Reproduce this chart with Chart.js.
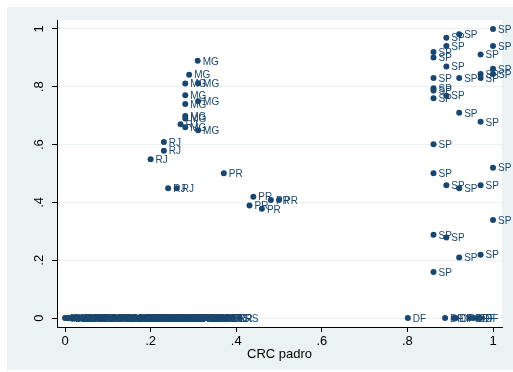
<!DOCTYPE html>
<html>
<head>
<meta charset="utf-8">
<title>CRC padro</title>
<script src="https://cdn.jsdelivr.net/npm/chart.js@4.4.0/dist/chart.umd.min.js"></script>
<style>
    html, body { margin: 0; padding: 0; background: #fff; }
    #wrap { width: 513px; height: 372px; }
</style>
</head>
<body>
<div id="wrap"><canvas id="crcChart"></canvas></div>
<script>
    // ticks
    const xTicks = [0, 0.2, 0.4, 0.6, 0.8, 1];
    const yTicks = [0, 0.2, 0.4, 0.6, 0.8, 1];

    // SP
    const spX = [1.000, 0.921, 0.891, 0.891, 1.000, 0.861, 0.971, 0.861, 0.891, 1.000, 1.000,
                 0.971, 0.861, 0.921, 0.971, 0.861, 0.861, 0.891, 0.861, 0.921, 0.971, 0.861,
                 1.000, 0.861, 0.891, 0.971, 0.921, 1.000, 0.861, 0.891, 0.971, 0.921, 0.861];
    const spY = [1.000, 0.982, 0.970, 0.941, 0.941, 0.920, 0.912, 0.901, 0.870, 0.862, 0.844,
                 0.844, 0.830, 0.830, 0.830, 0.795, 0.787, 0.769, 0.760, 0.710, 0.679, 0.601,
                 0.520, 0.501, 0.459, 0.459, 0.449, 0.339, 0.288, 0.279, 0.219, 0.209, 0.159];

    // MG
    const mgX = [0.310, 0.290, 0.281, 0.311, 0.281, 0.311, 0.281, 0.281, 0.281, 0.281, 0.311];
    const mgY = [0.890, 0.842, 0.811, 0.812, 0.771, 0.750, 0.740, 0.699, 0.690, 0.660, 0.650];

    // RJ
    const rjX = [0.270, 0.231, 0.231, 0.200, 0.241, 0.261];
    const rjY = [0.670, 0.609, 0.579, 0.549, 0.449, 0.449];

    // PR
    const prX = [0.371, 0.440, 0.481, 0.500, 0.431, 0.460];
    const prY = [0.501, 0.420, 0.408, 0.408, 0.389, 0.378];

    // DF
    const dfX = [0.801, 0.888, 0.909, 0.913, 0.946, 0.954, 0.963, 0.970];
    const dfY = [0, 0, 0, 0, 0, 0, 0, 0];

    // the rest, all sitting on zero
    const zeroX = [0.000, 0.003, 0.008, 0.012, 0.019, 0.023, 0.026, 0.032, 0.037, 0.040,
                   0.047, 0.051, 0.055, 0.062, 0.065, 0.072, 0.078, 0.081, 0.087, 0.094,
                   0.098, 0.103, 0.111, 0.114, 0.120, 0.127, 0.130, 0.136, 0.143, 0.146,
                   0.151, 0.158, 0.161, 0.166, 0.173, 0.176, 0.181, 0.188, 0.191, 0.196,
                   0.203, 0.206, 0.211, 0.218, 0.221, 0.226, 0.233, 0.236, 0.241, 0.248,
                   0.251, 0.256, 0.263, 0.266, 0.271, 0.278, 0.281, 0.286, 0.293, 0.296,
                   0.301, 0.308, 0.311, 0.317, 0.324, 0.328, 0.333, 0.341, 0.345, 0.351,
                   0.359, 0.363, 0.369, 0.377, 0.381, 0.387, 0.393, 0.408];
    const zeroLab = ['MA', 'PI', 'CE', 'MA', 'AM', 'MM', 'PA', 'MA', 'BA', 'MA',
                     'AL', 'PB', 'PE', 'SE', 'RN', 'TO', 'AC', 'AP', 'RO', 'RR',
                     'MT', 'MS', 'GO', 'BA', 'PE', 'CE', 'PA', 'MA', 'PI', 'AL',
                     'MG', 'BA', 'PE', 'GO', 'SC', 'RS', 'PR', 'ES', 'MG', 'BA',
                     'SC', 'RS', 'PR', 'GO', 'MT', 'MS', 'ES', 'CE', 'PB', 'RN',
                     'SC', 'RS', 'PR', 'GO', 'MG', 'ES', 'SC', 'RS', 'PR', 'MT',
                     'SC', 'RS', 'PR', 'GO', 'ES', 'MS', 'SC', 'RS', 'PR', 'MG',
                     'SC', 'RS', 'PR', 'ES', 'SC', 'RS', 'RR', 'RS'];
    const zeroY = zeroX.map(() => 0);

    const navy = '#1a476f';
    const bgBlue = '#eaf2f3';

    function pts(xs, ys, lab) {
        return xs.map((x, i) => ({ x: x, y: ys[i], lab: Array.isArray(lab) ? lab[i] : lab }));
    }

    function fmt(v) {
        if (v === 0) return '0';
        if (v === 1) return '1';
        return '.' + Math.round(v * 10);
    }

    const groups = [
        pts(zeroX, zeroY, zeroLab),
        pts(rjX, rjY, 'RJ'),
        pts(mgX, mgY, 'MG'),
        pts(prX, prY, 'PR'),
        pts(dfX, dfY, 'DF'),
        pts(spX, spY, 'SP')
    ];

    // Stata style backdrop: light blue graph region, white plot region
    const backdrop = {
        id: 'backdrop',
        beforeDraw(chart) {
            const ctx = chart.ctx;
            const a = chart.chartArea;
            ctx.save();
            ctx.fillStyle = '#ffffff';
            ctx.fillRect(0, 0, chart.width, chart.height);
            ctx.fillStyle = bgBlue;
            ctx.fillRect(7, 7, chart.width - 7, 363);
            ctx.fillStyle = '#ffffff';
            ctx.fillRect(a.left, a.top, a.right - a.left, a.bottom - a.top);
            ctx.restore();
        }
    };

    // marker labels, drawn under the markers
    const markerLabels = {
        id: 'markerLabels',
        beforeDatasetsDraw(chart) {
            const ctx = chart.ctx;
            ctx.save();
            ctx.font = '10px "Liberation Sans", Arial, sans-serif';
            ctx.fillStyle = navy;
            ctx.textBaseline = 'middle';
            ctx.textAlign = 'left';
            chart.data.datasets.forEach((ds, di) => {
                const meta = chart.getDatasetMeta(di);
                meta.data.forEach((el, i) => {
                    ctx.fillText(ds.data[i].lab, el.x + 5, el.y + 1);
                });
            });
            ctx.restore();
        }
    };

    Chart.defaults.font.family = '"Liberation Sans", Arial, sans-serif';

    const ctx = document.getElementById('crcChart').getContext('2d');
    const crcChart = new Chart(ctx, {
        type: 'scatter',
        data: {
            datasets: groups.map(g => ({
                data: g,
                pointRadius: 3,
                pointHoverRadius: 3,
                pointBackgroundColor: navy,
                pointBorderColor: navy,
                pointBorderWidth: 0,
                showLine: false
            }))
        },
        options: {
            responsive: true,
            maintainAspectRatio: false,
            animation: false,
            layout: {
                padding: { top: 20, right: 11, left: 0, bottom: 0 }
            },
            scales: {
                x: {
                    type: 'linear',
                    min: -0.0187,
                    max: 1.021,
                    afterBuildTicks: s => { s.ticks = xTicks.map(v => ({ value: v })); },
                    afterFit: s => { s.height = 45; },
                    ticks: {
                        callback: fmt,
                        color: '#000',
                        font: { size: 13 },
                        padding: 2,
                        maxRotation: 0,
                        minRotation: 0
                    },
                    grid: {
                        drawOnChartArea: false,
                        tickLength: 5,
                        tickColor: '#000'
                    },
                    border: { color: '#000', width: 1 },
                    title: {
                        display: true,
                        text: 'CRC padro',
                        color: '#000',
                        font: { size: 13 },
                        padding: { top: 0, bottom: 10 }
                    }
                },
                y: {
                    type: 'linear',
                    min: -0.031,
                    max: 1.031,
                    afterBuildTicks: s => { s.ticks = yTicks.map(v => ({ value: v })); },
                    afterFit: s => { s.width = 57; },
                    ticks: {
                        callback: fmt,
                        color: '#000',
                        font: { size: 13 },
                        padding: 7,
                        minRotation: 90,
                        maxRotation: 90,
                        crossAlign: 'center'
                    },
                    grid: {
                        color: bgBlue,
                        lineWidth: 1,
                        tickLength: 5,
                        tickColor: '#000'
                    },
                    border: { color: '#000', width: 1 }
                }
            },
            plugins: {
                legend: { display: false },
                tooltip: { enabled: false },
                title: { display: false }
            }
        },
        plugins: [backdrop, markerLabels]
    });
</script>
</body>
</html>
